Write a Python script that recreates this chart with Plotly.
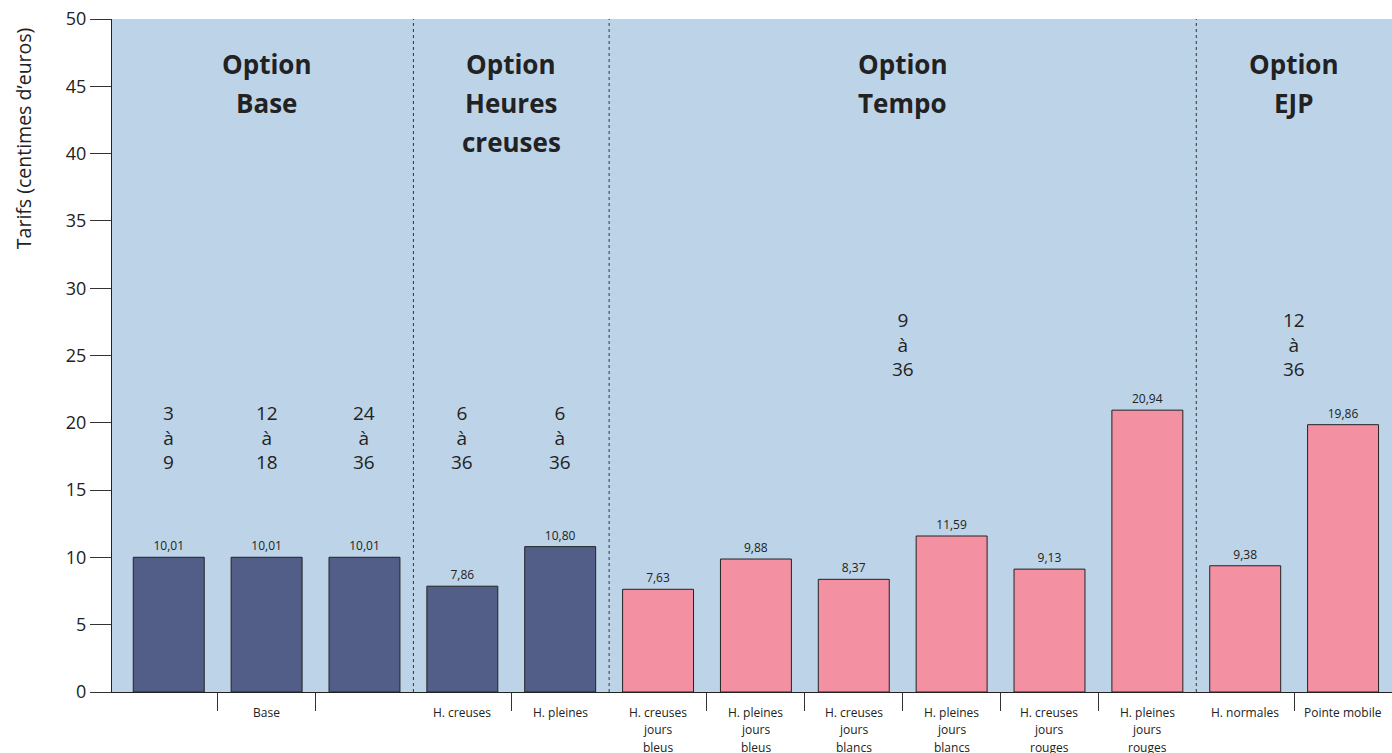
import plotly.graph_objects as go

# ---- data ----
categories = ["", "Base", "", "H. creuses", "H. pleines",
              "H. creuses<br>jours<br>bleus", "H. pleines<br>jours<br>bleus",
              "H. creuses<br>jours<br>blancs", "H. pleines<br>jours<br>blancs",
              "H. creuses<br>jours<br>rouges", "H. pleines<br>jours<br>rouges",
              "H. normales", "Pointe mobile"]
tarifs = [10.01, 10.01, 10.01, 7.86, 10.80, 7.63, 9.88, 8.37, 11.59, 9.13, 20.94, 9.38, 19.86]
bar_colors = ["#525e88"] * 5 + ["#f391a2"] * 8

group_titles = [["Option", "Base"], ["Option", "Heures", "creuses"], ["Option", "Tempo"], ["Option", "EJP"]]
group_sizes = [3, 2, 6, 2]

# puissance (kVA) ranges: (x position, label, y centre)
range_pos = [0, 1, 2, 3, 4, 7.5, 11.5]
range_txt = ["3<br>à<br>9", "12<br>à<br>18", "24<br>à<br>36", "6<br>à<br>36", "6<br>à<br>36",
             "9<br>à<br>36", "12<br>à<br>36"]
range_y = [18.9, 18.9, 18.9, 18.9, 18.9, 25.8, 25.8]

minor_ticks = [0.5, 1.5, 3.5, 5.5, 6.5, 7.5, 8.5, 9.5, 11.5]

FONT = "Open Sans"
x_idx = list(range(len(categories)))

fig = go.Figure()
fig.add_trace(go.Bar(
    x=x_idx, y=tarifs, width=0.725,
    marker=dict(color=bar_colors, line=dict(color="#222222", width=1)),
    text=[f"{v:.2f}".replace(".", ",") for v in tarifs],
    textposition="outside", textfont=dict(family=FONT, size=12, color="#222222"),
    cliponaxis=False, showlegend=False, hoverinfo="skip",
))

annotations = []
shapes = []
# group titles & dividers
start = 0
for sizes, title in zip(group_sizes, group_titles):
    centre = start + (sizes - 1) / 2
    for i, line in enumerate(title):
        annotations.append(dict(x=centre, y=46.65 - i * 2.88, xref="x", yref="y", text=f"<b>{line}</b>",
                                showarrow=False, font=dict(family=FONT, size=26, color="#222222")))
    start += sizes
    if start < len(categories):
        shapes.append(dict(type="line", xref="x", yref="y", x0=start - 0.5, x1=start - 0.5, y0=0, y1=50,
                           line=dict(color="#333333", width=1, dash="dot")))

for xp, t, yp in zip(range_pos, range_txt, range_y):
    annotations.append(dict(x=xp, y=yp, xref="x", yref="y", text=t, showarrow=False,
                            font=dict(family=FONT, size=19, color="#222222")))

# category labels (one annotation per line, for the wider line spacing)
for xi, lab in zip(x_idx, categories):
    for k, part in enumerate(lab.split("<br>")):
        if part:
            annotations.append(dict(x=xi, y=0, xref="x", yref="paper", yanchor="middle", yshift=-(20 + 17.5 * k),
                                    text=part, showarrow=False,
                                    font=dict(family=FONT, size=12, color="#222222")))

annotations.append(dict(x=-0.0695, y=0.823, xref="paper", yref="paper", xanchor="center", yanchor="middle",
                        text="Tarifs (centimes d’euros)",
                        textangle=-90, showarrow=False, font=dict(family=FONT, size=19.5, color="#222222")))

fig.update_layout(
    width=1392, height=753,
    margin=dict(l=112, r=0, t=19, b=61),
    paper_bgcolor="white", plot_bgcolor="#bdd4e8",
    annotations=annotations, shapes=shapes,
    xaxis=dict(range=[-0.58, 12.5], tickmode="array", tickvals=x_idx, showticklabels=False,
               ticks="", showline=True, linecolor="#222222", linewidth=1, showgrid=False, zeroline=False,
               minor=dict(tickmode="array", tickvals=minor_ticks, ticks="outside", ticklen=18,
                          tickcolor="#333333", tickwidth=1, showgrid=False)),
    yaxis=dict(range=[0, 50], tickmode="linear", tick0=0, dtick=5, ticks="outside", ticklen=21,
               tickcolor="#333333", tickfont=dict(family=FONT, size=18, color="#222222"),
               showline=True, linecolor="#222222", linewidth=1, showgrid=False, zeroline=False),
)

fig.write_html("out.html", config={"displayModeBar": False},
               post_script="document.body.style.margin='0';document.body.style.overflow='hidden';")
